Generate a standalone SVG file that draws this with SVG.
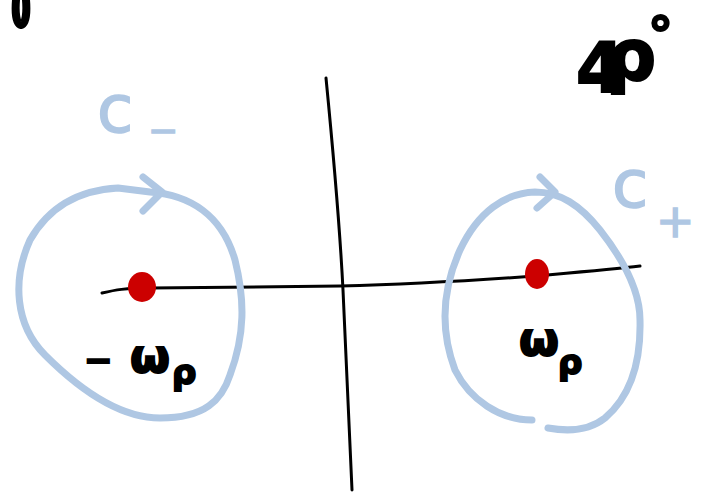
<svg xmlns="http://www.w3.org/2000/svg" width="704" height="496" viewBox="0 0 704 496">
<style>
.blue{fill:none;stroke:#afc7e3;stroke-width:7;stroke-linecap:round;stroke-linejoin:round}
.ink{fill:none;stroke:#000;stroke-linecap:round;stroke-linejoin:round}
.bt{fill:#afc7e3;stroke:#afc7e3;stroke-width:1.5;font-family:"DejaVu Sans",sans-serif}
.kt{fill:#000;stroke:#000;stroke-width:2;font-family:"DejaVu Sans",sans-serif;font-weight:bold}
.pole{fill:#cc0000}
</style>
<rect width="704" height="496" fill="#fff"/>
<g id="connectors">
<path class="ink" stroke-width="3" d="M102,293 C115,290 125,288 150,288 L340,286 C420,284 480,280 535,276 C580,272 615,269 640,266"/>
<path class="ink" stroke-width="3" d="M326,78 C334,160 340,230 343,290 C346,370 349,430 352,490"/>
</g>
<g id="mark">
<path class="ink" stroke-width="8" d="M16,0 C15,12 16,24 21,25 C26,24 27,12 26,0"/>
</g>
<g id="contour-minus">
<path class="blue" d="M150,192 C190,195 222,215 235,260 C245,300 245,335 230,375 C222,400 205,418 160,418 C120,418 80,390 45,355 C15,325 12,280 30,240 C50,205 80,190 118,188 Z"/>
<path class="blue" d="M143,177 L162,192 L143,211"/>
<text class="bt" x="97" y="132" font-size="66">c<tspan x="148" y="143" font-size="36">−</tspan></text>
</g>
<g id="contour-plus">
<path class="blue" d="M532,420 C500,420 470,400 455,370 C440,330 442,290 460,250 C478,212 505,193 535,192 C560,192 580,205 600,230 C622,258 640,290 640,320 C641,360 632,395 605,418 C590,430 570,432 548,428"/>
<path class="blue" d="M540,177 L555,192 L537,208"/>
<text class="bt" x="612" y="207" font-size="66">c<tspan x="656" y="237" font-size="46">+</tspan></text>
</g>
<g id="pole-minus">
<ellipse class="pole" cx="142" cy="287" rx="14" ry="15"/>
<text class="kt" x="84" y="372" font-size="46"><tspan font-size="34">−</tspan><tspan x="130">ω</tspan><tspan x="172" y="384" font-size="34">ρ</tspan></text>
</g>
<g id="pole-plus">
<ellipse class="pole" cx="537" cy="274" rx="12" ry="15"/>
<text class="kt" x="519" y="355" font-size="46">ω<tspan x="558" y="374" font-size="34">ρ</tspan></text>
</g>
<g id="page-mark">
<text class="kt" x="576" y="92" font-size="70">4<tspan x="606" y="80" font-size="70">ρ</tspan><tspan x="648" y="52" font-size="50">°</tspan></text>
</g>
</svg>
